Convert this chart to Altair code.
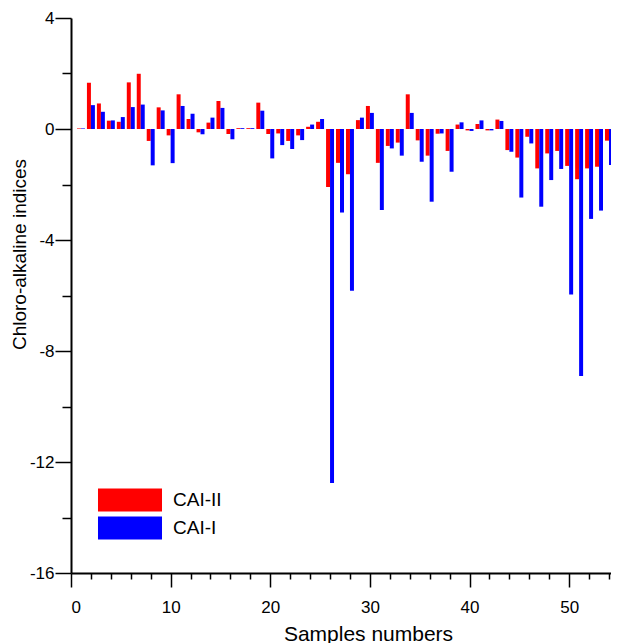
import altair as alt
import pandas as pd

samples = list(range(1, 55))
cai_ii = [0.02, 1.67, 0.92, 0.30, 0.26, 1.68, 1.99, -0.43, 0.78, -0.23,
          1.25, 0.36, -0.12, 0.23, 1.01, -0.18, 0.03, 0.03, 0.95, -0.18,
          -0.16, -0.43, -0.23, 0.08, 0.26, -2.09, -1.22, -1.63, 0.32, 0.83,
          -1.22, -0.61, -0.49, 1.25, -0.41, -0.96, -0.17, -0.79, 0.16, -0.05,
          0.18, -0.05, 0.34, -0.76, -1.03, -0.28, -1.42, -0.88, -0.79, -1.33,
          -1.81, -1.42, -1.36, -0.42]
cai_i = [0.02, 0.86, 0.62, 0.31, 0.43, 0.79, 0.88, -1.31, 0.67, -1.23,
         0.83, 0.55, -0.19, 0.41, 0.76, -0.37, 0.03, 0.03, 0.66, -1.06,
         -0.58, -0.72, -0.40, 0.16, 0.36, -12.76, -3.01, -5.83, 0.41, 0.58,
         -2.92, -0.70, -0.96, 0.58, -1.18, -2.62, -0.16, -1.54, 0.24, -0.07,
         0.31, -0.05, 0.29, -0.82, -2.47, -0.52, -2.80, -1.84, -1.44, -5.96,
         -8.90, -3.24, -2.94, -1.30]
series_names = ["CAI-II", "CAI-I"]
series_colors = ["#ff0000", "#0000ff"]

rows = []
for n, a, b in zip(samples, cai_ii, cai_i):
    rows.append({"n": n, "series": "CAI-II", "value": a, "off": -1})
    rows.append({"n": n, "series": "CAI-I", "value": b, "off": 0})
df = pd.DataFrame(rows)

FONT = "Liberation Sans"

x_vals = list(range(0, 56, 2))
y_vals = list(range(-16, 5, 2))

chart = alt.Chart(df).transform_calculate(
    x1="datum.n + datum.off * 0.4",
    x2="datum.n + (datum.off + 1) * 0.4",
).mark_bar(clip=True).encode(
    x=alt.X("x1:Q",
            scale=alt.Scale(domain=[0, 54.2], nice=False, zero=False),
            axis=alt.Axis(
                values=x_vals,
                labelExpr="datum.value % 10 == 0 ? toString(datum.value) : ''",
                tickSize={"condition": {"test": "datum.value % 10 == 0", "value": 14}, "value": 6},
                title="Samples numbers",
                titleX=297,
                grid=False,
                domainColor="black", domainWidth=2,
                tickColor="black", tickWidth=1.5,
                labelFont=FONT, labelFontSize=17, labelColor="black",
                labelPadding=12,
                titleFont=FONT, titleFontSize=21, titleFontWeight="normal",
                titleColor="black", titlePadding=8,
            )),
    x2="x2:Q",
    y=alt.Y("value:Q",
            scale=alt.Scale(domain=[-16, 4], nice=False, zero=False),
            axis=alt.Axis(
                values=y_vals,
                labelExpr="datum.value % 4 == 0 ? toString(datum.value) : ''",
                tickSize={"condition": {"test": "datum.value % 4 == 0", "value": 16}, "value": 9},
                title="Chloro-alkaline indices",
                titleY=236,
                grid=False,
                domainColor="black", domainWidth=2,
                tickColor="black", tickWidth=1.5,
                labelFont=FONT, labelFontSize=17, labelColor="black",
                labelPadding=1,
                titleFont=FONT, titleFontSize=19, titleFontWeight="normal",
                titleColor="black", titlePadding=0,
            )),
    y2=alt.datum(0),
    color=alt.Color("series:N",
                    scale=alt.Scale(domain=series_names, range=series_colors),
                    legend=alt.Legend(
                        title=None,
                        orient="none",
                        legendX=47, legendY=470,
                        symbolType="M-2.667,-0.958L2.667,-0.958L2.667,0.958L-2.667,0.958Z",
                        symbolSize=576,
                        symbolStrokeWidth=0,
                        symbolOpacity=1,
                        labelFont=FONT, labelFontSize=19, labelColor="black",
                        labelOffset=31,
                        rowPadding=4,
                        padding=0,
                    )),
).properties(
    width=540,
    height=555,
    autosize=alt.AutoSizeParams(type="none"),
    padding={"left": 63, "top": 10, "right": 0, "bottom": 70},
).configure_view(stroke=None)

chart.save("out.html", embed_options={"renderer": "svg", "actions": False})
